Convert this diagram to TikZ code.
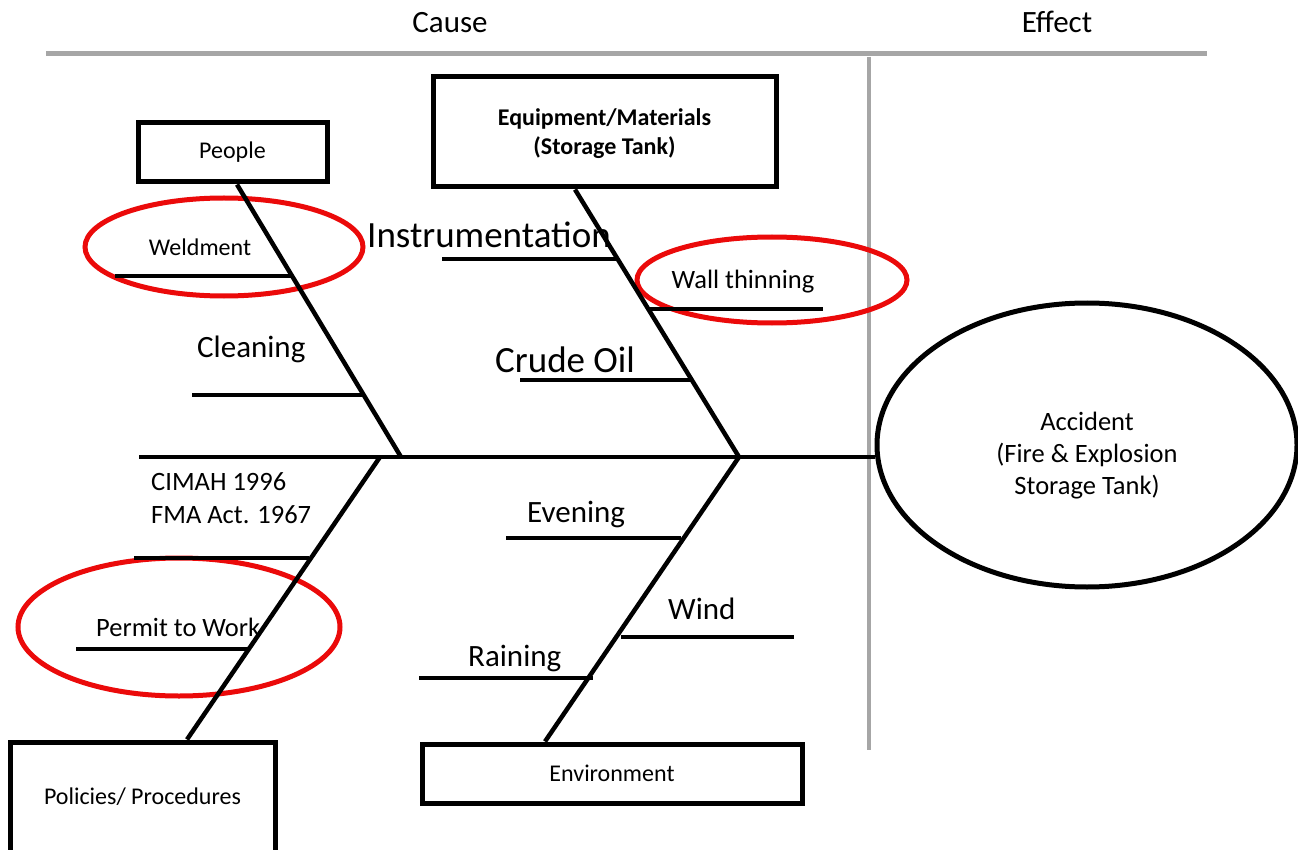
\documentclass[tikz,border=0pt]{standalone}
\usepackage{fontspec}
\setmainfont{Carlito}
\usetikzlibrary{shapes.geometric}
\definecolor{gline}{RGB}{166,166,166}
\definecolor{hl}{RGB}{235,10,10}
\begin{document}
\begin{tikzpicture}[x=1pt,y=-1pt,
  bone/.style={line width=4.5pt, black},
  sub/.style={line width=4pt, black},
  catbox/.style={draw, line width=5pt, inner sep=0pt, align=center},
  redring/.style={draw=hl, line width=5pt},
  fs/.style={font={\fontsize{24}{29}\selectfont}},
  fm/.style={font={\fontsize{26.5}{32}\selectfont}},
  fl/.style={font={\fontsize{31}{37}\selectfont}},
  fx/.style={font={\fontsize{37}{44}\selectfont}},
  lbl/.style={inner sep=0pt, anchor=base west},
  lblc/.style={inner sep=0pt, anchor=base}]
\clip (0,0) rectangle (1298,850);
\fill[white] (0,0) rectangle (1298,850);

% headings and frame
\node[lblc, fl] (cause) at (450,33) {Cause};
\node[lblc, fl] (effect) at (1057,33) {Effect};
\draw[gline, line width=5pt] (46,54) -- (1207,54);
\draw[gline, line width=4pt] (869,57) -- (869,750);

% category boxes
\node[catbox, fs, minimum width=189pt, minimum height=59pt] (people) at (232.5,152.5) {\raisebox{-3pt}{People}};
\node[catbox, minimum width=343pt, minimum height=110pt] (equip) at (604.5,132) {};
\node[lblc, font={\fontsize{24}{29}\selectfont\bfseries}] (equip1) at (604.5,126) {Equipment/Materials};
\node[lblc, font={\fontsize{24}{29}\selectfont\bfseries}] (equip2) at (604.5,155) {(Storage Tank)};
\node[catbox, fs, minimum width=265pt, minimum height=110pt] (policies) at (142.5,797) {Policies/ Procedures};
\node[catbox, fs, minimum width=380pt, minimum height=59pt] (env) at (612,773.5) {Environment};

% effect
\node[draw, ellipse, line width=5pt, inner sep=0pt, minimum width=420pt, minimum height=284pt] (acc) at (1087,445) {};
\node[lblc, fm] (acc1) at (1087,430) {Accident};
\node[lblc, fm] (acc2) at (1087,462) {(Fire \& Explosion};
\node[lblc, fm] (acc3) at (1087,494) {Storage Tank)};

% highlight rings
\draw[redring] (224,247) ellipse [x radius=139pt, y radius=49pt];
\draw[redring] (772,280) ellipse [x radius=135pt, y radius=43pt];
\draw[redring] (179,627) ellipse [x radius=161pt, y radius=69pt];

% spine and bones
\coordinate (tail) at (139,457);
\coordinate (j1) at (401,457);
\coordinate (j2) at (739,457);
\coordinate (j3) at (380,457);
\draw[bone] (tail) -- (tail -| acc.west);
\draw[bone] ([xshift=4.5pt]people.south) -- (j1);
\draw[bone] ([xshift=-29.5pt]equip.south) -- (j2);
\draw[bone] (j3) -- ([xshift=44.5pt]policies.north);
\draw[bone] (j2) -- ([xshift=-67pt]env.north);

% sub-bones
\draw[sub] (115,276) -- (293,276);
\draw[sub] (192,395) -- (364,395);
\draw[sub] (442,259) -- (616,259);
\draw[sub] (650,309) -- (823,309);
\draw[sub] (520,380) -- (691,380);
\draw[sub] (134,558) -- (309,558);
\draw[sub] (76,649) -- (249,649);
\draw[sub] (506,538) -- (681,538);
\draw[sub] (621,637) -- (794,637);
\draw[sub] (419,678) -- (593,678);

% cause labels
\node[lblc, fs] (weld) at (200,256) {Weldment};
\node[lbl, fl] (clean) at (197,357) {Cleaning};
\node[lbl, fx] (instr) at (367,248) {Instrumentation};
\node[lblc, fm] (wall) at (743,288) {Wall thinning};
\node[lbl, fx] (crude) at (495,372) {Crude Oil};
\node[lbl, fm] (cimah) at (151,490) {CIMAH 1996};
\node[lbl, fm] (fma) at (151,523) {FMA Act. 1967};
\node[lbl, fm] (permit) at (96,636) {Permit to Work};
\node[lbl, fl] (even) at (527,522) {Evening};
\node[lbl, fl] (wind) at (668,619) {Wind};
\node[lbl, fl] (rain) at (468,666) {Raining};
\end{tikzpicture}
\end{document}
